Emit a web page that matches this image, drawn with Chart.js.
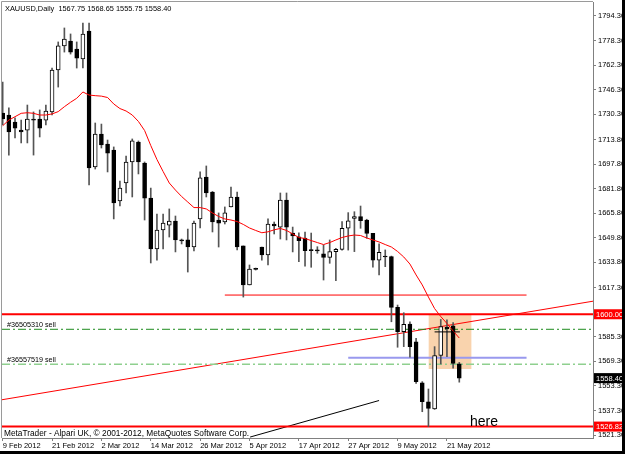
<!DOCTYPE html>
<html>
<head>
<meta charset="utf-8">
<script src="https://cdn.jsdelivr.net/npm/chart.js@4.4.0/dist/chart.umd.min.js"></script>
<style>
  html, body { margin: 0; padding: 0; background: #fff; }
  canvas { display: block; }
</style>
</head>
<body>
<canvas id="grafico" width="625" height="454"></canvas>
<script>
// XAUUSD daily, bar 0 = 9 Feb 2012
const tickIndex = [0, 8, 16, 24, 32, 40, 48, 56, 64, 72];
const tickLabels = ['9 Feb 2012', '21 Feb 2012', '2 Mar 2012', '14 Mar 2012', '26 Mar 2012',
  '5 Apr 2012', '17 Apr 2012', '27 Apr 2012', '9 May 2012', '21 May 2012'];
const priceTicks = [1794.30, 1778.30, 1762.30, 1746.30, 1730.30, 1713.80, 1697.80, 1681.80, 1665.80,
  1649.80, 1633.80, 1617.30, 1585.30, 1569.30, 1553.30, 1537.30, 1521.30];

const open = [1731.1, 1729.8, 1725.2, 1720.0, 1720.0, 1727.2, 1727.2, 1726.5, 1731.8, 1759.1,
  1774.8, 1778.0, 1772.8, 1766.3, 1784.5, 1695.9, 1717.4, 1710.9, 1707.0, 1673.8,
  1685.5, 1699.2, 1712.2, 1698.5, 1675.7, 1642.5, 1654.9, 1658.1, 1660.7, 1648.4,
  1648.4, 1643.8, 1662.1, 1689.4, 1679.6, 1661.4, 1660.1, 1669.9, 1676.4, 1644.5,
  1619.1, 1629.5, 1643.8, 1638.6, 1658.8, 1656.8, 1674.4, 1652.9, 1650.5, 1649.7,
  1641.8, 1641.5, 1639.3, 1637.1, 1640.8, 1642.3, 1656.0, 1662.5, 1663.6, 1661.4,
  1652.7, 1635.3, 1637.5, 1637.5, 1604.5, 1588.6, 1593.6, 1582.1, 1555.4, 1543.0,
  1538.4, 1573.1, 1591.7, 1592.5, 1567.75];
const high = [1751.3, 1734.4, 1727.9, 1726.5, 1736.3, 1731.8, 1733.1, 1736.3, 1760.4, 1777.4,
  1786.5, 1782.6, 1777.4, 1789.7, 1789.7, 1724.6, 1723.9, 1713.5, 1709.0, 1686.8,
  1703.1, 1714.2, 1712.9, 1699.2, 1682.2, 1665.3, 1665.3, 1668.6, 1664.0, 1649.0,
  1655.5, 1660.7, 1692.7, 1696.6, 1680.0, 1666.0, 1669.9, 1682.9, 1679.6, 1644.5,
  1632.1, 1630.1, 1643.8, 1662.1, 1660.1, 1679.0, 1679.0, 1656.8, 1653.1, 1653.6,
  1652.9, 1644.0, 1645.1, 1648.4, 1643.0, 1660.3, 1666.2, 1666.8, 1670.5, 1661.9,
  1652.7, 1645.8, 1641.9, 1637.9, 1606.0, 1601.0, 1595.1, 1584.3, 1556.1, 1551.3,
  1578.9, 1596.6, 1596.3, 1594.5, 1568.65];
const low = [1723.3, 1703.7, 1714.8, 1711.6, 1711.6, 1703.7, 1715.5, 1723.3, 1729.8, 1748.0,
  1770.8, 1769.5, 1760.4, 1760.4, 1684.2, 1694.6, 1708.3, 1692.7, 1662.1, 1670.5,
  1679.0, 1676.4, 1691.4, 1661.4, 1633.4, 1635.3, 1642.5, 1650.3, 1640.6, 1645.8,
  1627.5, 1641.2, 1656.2, 1676.4, 1653.6, 1643.8, 1658.8, 1669.9, 1641.9, 1611.2,
  1619.1, 1628.8, 1635.3, 1632.1, 1652.3, 1649.0, 1648.4, 1640.6, 1634.2, 1631.4,
  1630.6, 1639.7, 1622.3, 1633.2, 1621.9, 1641.8, 1641.8, 1640.8, 1656.0, 1649.5,
  1630.6, 1625.6, 1631.0, 1595.1, 1578.5, 1578.9, 1572.0, 1555.0, 1536.5, 1526.82,
  1538.0, 1567.6, 1572.3, 1564.8, 1555.75];
const close = [1727.2, 1718.7, 1721.3, 1718.7, 1727.2, 1726.5, 1721.3, 1732.4, 1759.1, 1774.8,
  1779.3, 1770.8, 1766.9, 1782.6, 1695.3, 1717.4, 1710.3, 1705.0, 1672.5, 1682.2,
  1699.2, 1712.9, 1699.2, 1675.7, 1642.5, 1654.9, 1659.4, 1660.7, 1648.4, 1647.7,
  1643.8, 1659.4, 1688.8, 1679.0, 1660.1, 1659.4, 1666.0, 1676.4, 1643.8, 1619.1,
  1629.5, 1629.2, 1638.6, 1658.8, 1657.5, 1674.4, 1656.8, 1651.0, 1647.9, 1641.5,
  1641.5, 1641.3, 1637.1, 1640.8, 1642.3, 1656.0, 1660.9, 1663.6, 1660.9, 1652.7,
  1635.3, 1640.4, 1637.3, 1604.5, 1588.6, 1593.4, 1578.9, 1556.1, 1543.0, 1538.7,
  1573.1, 1592.0, 1590.4, 1567.9, 1558.40];
// red moving average
const ma = [1722.8, 1726.5, 1728.7, 1730.9, 1731.3, 1730.9, 1729.8, 1729.8, 1730.5, 1732.0,
  1735.2, 1738.1, 1740.7, 1744.8, 1742.8, 1742.4, 1742.1, 1741.2, 1737.0, 1734.0,
  1732.4, 1729.8, 1725.6, 1719.7, 1709.9, 1700.8, 1693.0, 1685.5, 1680.9, 1676.7,
  1673.1, 1669.5, 1669.5, 1668.6, 1666.0, 1663.7, 1662.1, 1661.4, 1660.4, 1658.5,
  1656.2, 1654.6, 1653.1, 1653.7, 1655.0, 1655.9, 1654.6, 1652.3, 1650.0, 1649.3,
  1648.0, 1646.7, 1645.4, 1646.7, 1648.4, 1650.0, 1651.0, 1651.6, 1651.3, 1649.7,
  1648.4, 1647.1, 1645.4, 1643.8, 1640.9, 1637.3, 1632.7, 1625.6, 1619.1, 1611.2,
  1603.7, 1598.5, 1594.0, 1589.1, 1584.5];

// drawn objects: [bar index, price]
const trendRed = [[-0.11, 1544.3], [95.67, 1608.5]];
const trendBlack = [[40.1, 1520.0], [61.0, 1543.8]];
const levelThin = [[36.0, 1612.5], [84.9, 1612.5]];
const levelBlue = [[56.0, 1571.7], [84.9, 1571.7]];
const crossLine = [[70.0, 1588.5], [74.1, 1588.5]];
const orderSell1 = 1590.2;
const orderSell2 = 1567.4;
const level1600 = 1600.00;
const levelLow = 1526.82;
const lastPrice = 1558.40;
const boxX = [69.0, 76.0];
const boxY = [1564.3, 1599.5];

const X_MIN = -0.11, X_MAX = 95.67;
const Y_MIN = 1519.38, Y_MAX = 1803.42;

function pts(arr) {
  return arr.map(p => ({ x: p[0], y: p[1] }));
}

function linha(pontos, cor, largura, dash, ordem) {
  return {
    type: 'line',
    data: pts(pontos),
    borderColor: cor,
    borderWidth: largura,
    borderDash: dash || [],
    pointRadius: 0,
    fill: false,
    tension: 0,
    order: ordem
  };
}

const overlay = {
  id: 'overlay',
  beforeDraw(chart) {
    const ctx = chart.ctx;
    ctx.save();
    ctx.fillStyle = '#fff';
    ctx.fillRect(0, 0, chart.width, chart.height);
    ctx.restore();
  },
  afterDraw(chart) {
    const { ctx, chartArea, scales } = chart;
    const y = scales.y;
    ctx.save();
    // frame
    ctx.strokeStyle = '#9a9a9a';
    ctx.lineWidth = 1;
    ctx.beginPath();
    ctx.moveTo(chartArea.left - 0.5, chartArea.bottom);
    ctx.lineTo(chartArea.left - 0.5, chartArea.top - 0.5);
    ctx.lineTo(chartArea.right, chartArea.top - 0.5);
    ctx.stroke();

    // price boxes on the axis
    const caixa = (valor, fundo) => {
      const py = y.getPixelForValue(valor);
      ctx.fillStyle = fundo;
      ctx.fillRect(chartArea.right + 1, py - 5, 30, 10);
      ctx.fillStyle = '#fff';
      ctx.font = '7.5px "Liberation Sans"';
      ctx.textAlign = 'left';
      ctx.textBaseline = 'middle';
      ctx.fillText(valor.toFixed(2), chartArea.right + 3, py + 0.5);
    };
    caixa(level1600, '#ff0000');
    caixa(lastPrice, '#000000');
    caixa(levelLow, '#ff0000');

    ctx.fillStyle = '#000';
    ctx.textAlign = 'left';
    ctx.textBaseline = 'alphabetic';
    ctx.font = '7.2px "Liberation Sans"';
    ctx.fillText('#36505310 sell', chartArea.left + 5, y.getPixelForValue(orderSell1) - 2);
    ctx.fillText('#36557519 sell', chartArea.left + 5, y.getPixelForValue(orderSell2) - 2);

    ctx.font = '7.4px "Liberation Sans"';
    ctx.fillText('XAUUSD,Daily  1567.75 1568.65 1555.75 1558.40', 5, 10.5);

    ctx.font = '8.3px "Liberation Sans"';
    ctx.fillText('MetaTrader - Alpari UK, \u00a9 2001-2012, MetaQuotes Software Corp.', 4, 436);

    ctx.font = '14px "Liberation Sans"';
    ctx.fillText('here', 470, 426);

    // outer black edge
    ctx.fillStyle = '#000';
    ctx.fillRect(622, 0, 3, chart.height);
    ctx.fillRect(0, 451, chart.width, 3);
    ctx.restore();
  }
};

function criarGrafico() {
  const idx = open.map((_, i) => i);
  const alta = idx.map(i => close[i] >= open[i]);

  return new Chart(document.getElementById('grafico'), {
    type: 'bar',
    data: {
      datasets: [
        {
          type: 'line',
          data: pts([[boxX[0], boxY[1]], [boxX[1], boxY[1]]]),
          borderColor: 'transparent',
          borderWidth: 0,
          pointRadius: 0,
          backgroundColor: '#f9d3ad',
          fill: { value: boxY[0] },
          order: 10
        },
        linha([[X_MIN, level1600], [X_MAX, level1600]], '#ff0000', 2, null, 5),
        linha([[X_MIN, levelLow], [X_MAX, levelLow]], '#ff0000', 2, null, 5),
        linha([[X_MIN, orderSell1], [X_MAX, orderSell1]], '#1e8c1e', 1, [8, 3, 2, 3], 5),
        linha([[X_MIN, orderSell2], [X_MAX, orderSell2]], '#8fd08f', 1.5, [8, 3, 2, 3], 5),
        linha(levelBlue, '#9999ee', 2, null, 5),
        linha(levelThin, '#ff0000', 1, null, 5),
        linha(trendRed, '#ff0000', 1, null, 5),
        linha(trendBlack, '#000000', 1, null, 5),
        linha(crossLine, '#000000', 1, null, 0),
        {
          type: 'bar',
          data: idx.map(i => ({ x: i, y: [low[i], high[i]] })),
          backgroundColor: '#555555',
          barThickness: 1,
          grouped: false,
          order: 3
        },
        {
          type: 'bar',
          data: idx.map(i => ({ x: i, y: [open[i], close[i]] })),
          backgroundColor: idx.map(i => alta[i] ? '#ffffff' : '#000000'),
          borderColor: '#000000',
          borderWidth: 1,
          borderSkipped: false,
          barThickness: 4,
          minBarLength: 1,
          grouped: false,
          order: 2
        },
        {
          type: 'line',
          data: idx.map(i => ({ x: i, y: ma[i] })),
          borderColor: '#ff0000',
          borderWidth: 1,
          pointRadius: 0,
          fill: false,
          tension: 0,
          order: 1
        }
      ]
    },
    options: {
      responsive: false,
      animation: false,
      layout: { padding: { top: 2, left: 2, right: 0, bottom: 0 } },
      plugins: { legend: { display: false }, tooltip: { enabled: false }, title: { display: false } },
      scales: {
        x: {
          type: 'linear',
          min: X_MIN,
          max: X_MAX,
          offset: false,
          border: { display: true, color: '#808080' },
          grid: { display: true, drawOnChartArea: false, drawTicks: true, tickLength: 3, color: '#808080', offset: false },
          ticks: {
            autoSkip: false,
            maxRotation: 0,
            align: 'start',
            padding: 0,
            color: '#000',
            font: { family: 'Liberation Sans', size: 7.5 },
            callback: (v, i) => tickLabels[i]
          },
          afterBuildTicks: s => { s.ticks = tickIndex.map(v => ({ value: v })); },
          afterFit: s => { s.height = 16; s.paddingLeft = 0; s.paddingRight = 0; }
        },
        y: {
          position: 'right',
          min: Y_MIN,
          max: Y_MAX,
          border: { display: true, color: '#808080' },
          grid: { display: true, drawOnChartArea: false, drawTicks: true, tickLength: 3, color: '#808080' },
          ticks: {
            padding: 2,
            color: '#000',
            font: { family: 'Liberation Sans', size: 7.5 },
            callback: v => v.toFixed(2)
          },
          afterBuildTicks: s => { s.ticks = priceTicks.map(v => ({ value: v })); },
          afterFit: s => { s.width = 32; s.paddingTop = 0; s.paddingBottom = 0; }
        }
      }
    },
    plugins: [overlay]
  });
}

criarGrafico();
</script>
</body>
</html>
